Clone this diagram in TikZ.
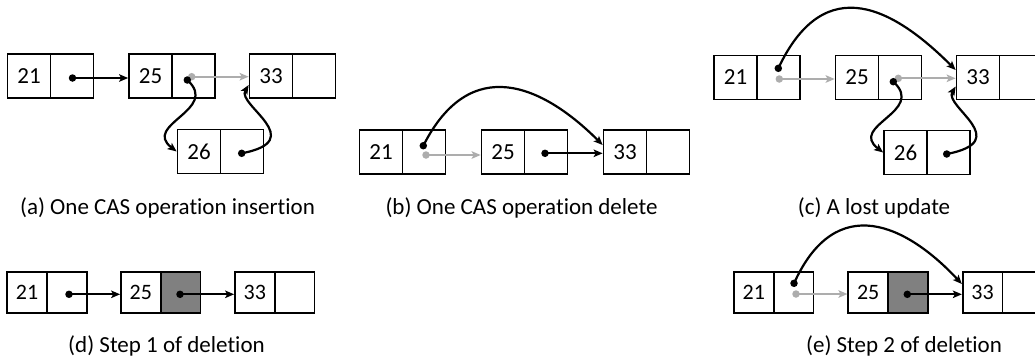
\documentclass[tikz,border=0pt]{standalone}
\usepackage{fontspec}
\setmainfont{Carlito}[Ligatures=NoCommon]
\usetikzlibrary{arrows.meta}
\definecolor{lgray}{gray}{0.68}
\definecolor{dgray}{gray}{0.5}
\begin{document}
\begin{tikzpicture}[x=1pt,y=-1pt,
  cell/.style={draw, line width=1.7pt, minimum width=43pt, minimum height=44pt, inner sep=0pt, font=\fontsize{23}{23}\selectfont},
  smallcell/.style={cell, minimum width=39.7pt, minimum height=40.4pt, font=\fontsize{22}{22}\selectfont},
  darkcell/.style={smallcell, fill=dgray},
  dot/.style={circle, fill=black, inner sep=0pt, minimum size=7.5pt},
  gdot/.style={dot, fill=lgray},
  ptr/.style={line width=2.2pt, draw=black, -{Stealth[length=9pt,width=7.5pt,inset=2pt]}},
  gptr/.style={ptr, draw=lgray, -{Stealth[length=9pt,width=7.5pt,inset=2pt,fill=lgray]}},
  captext/.style={anchor=base, inner sep=0pt, font=\fontsize{23}{23}\selectfont}]
\useasboundingbox (0,0) rectangle (1035,360);
\clip (0,0) rectangle (1035,360);

% ---------------- (a) ----------------
\node[cell] (a21k) at (29,76) {21};
\node[cell] (a21p) at (72,76) {};
\node[cell] (a25k) at (150.5,76) {25};
\node[cell] (a25p) at (193.5,76) {};
\node[cell] (a33k) at (271,76) {33};
\node[cell] (a33p) at (314,76) {};
\node[cell] (a26k) at (199,151.5) {26};
\node[cell] (a26p) at (242,151.5) {};
\coordinate (a21d) at (72.5,78);
\coordinate (a25d) at (187.3,80);
\coordinate (a25g) at (191.7,76.7);
\coordinate (a26d) at (241.7,153.3);
\draw[gptr] (a25g) -- (a25g -| a33k.west);
\draw[ptr] (a21d) -- (a21d -| a25k.west);
\draw[ptr] (a25d) .. controls +(33,30) and +(-35,-27) .. (a26k.west);
\draw[ptr] (a26d) .. controls +(68,-13) and +(-12,20) .. ([yshift=-9pt]a33k.west);
\node[dot] at (a21d) {};
\node[gdot] at (a25g) {};
\node[dot] at (a25d) {};
\node[dot] at (a26d) {};
\node[captext] (capa) at (167.5,214) {(a) One CAS operation insertion};

% ---------------- (b) ----------------
\node[cell] (b21k) at (381,152) {21};
\node[cell] (b21p) at (424,152) {};
\node[cell] (b25k) at (503,152) {25};
\node[cell] (b25p) at (546,152) {};
\node[cell] (b33k) at (625,152) {33};
\node[cell] (b33p) at (668,152) {};
\coordinate (b21d) at (423.3,145.7);
\coordinate (b21g) at (426,155);
\coordinate (b25d) at (545,153.3);
\draw[gptr] (b21g) -- (b21g -| b25k.west);
\draw[ptr] (b25d) -- (b25d -| b33k.west);
\draw[ptr] (b21d) .. controls +(47,-93) and +(-60,-60) .. ([yshift=7pt]b33k.west);
\node[gdot] at (b21g) {};
\node[dot] at (b21d) {};
\node[dot] at (b25d) {};
\node[captext] (capb) at (521.5,214) {(b) One CAS operation delete};

% ---------------- (c) ----------------
\node[cell] (c21k) at (735.5,77.5) {21};
\node[cell] (c21p) at (778.5,77.5) {};
\node[cell] (c25k) at (857,77.5) {25};
\node[cell] (c25p) at (900,77.5) {};
\node[cell] (c33k) at (978,77.5) {33};
\node[cell] (c33p) at (1021,77.5) {};
\node[cell] (c26k) at (905.5,152.5) {26};
\node[cell] (c26p) at (948.5,152.5) {};
\coordinate (c21d) at (778.3,68.3);
\coordinate (c21g) at (779.3,79);
\coordinate (c25d) at (893.3,81.7);
\coordinate (c25g) at (898.3,78.3);
\coordinate (c26d) at (946.7,154);
\draw[gptr] (c21g) -- (c21g -| c25k.west);
\draw[gptr] (c25g) -- (c25g -| c33k.west);
\draw[ptr] (c21d) .. controls +(47,-100) and +(-60,-60) .. ([yshift=7.5pt]c33k.west);
\draw[ptr] (c25d) .. controls +(33,30) and +(-35,-27) .. (c26k.west);
\draw[ptr] (c26d) .. controls +(68,-13) and +(-12,20) .. ([yshift=-9pt]c33k.west);
\node[gdot] at (c21g) {};
\node[dot] at (c21d) {};
\node[gdot] at (c25g) {};
\node[dot] at (c25d) {};
\node[dot] at (c26d) {};
\node[captext] (capc) at (874,214) {(c) A lost update};

% ---------------- (d) ----------------
\node[smallcell] (d21k) at (27.15,292.5) {21};
\node[smallcell] (d21p) at (66.85,292.5) {};
\node[smallcell] (d25k) at (140.85,292.5) {25};
\node[darkcell] (d25p) at (180.55,292.5) {};
\node[smallcell] (d33k) at (254.85,292.5) {33};
\node[smallcell] (d33p) at (294.55,292.5) {};
\coordinate (d21d) at (69,294.3);
\coordinate (d25d) at (180,294.3);
\draw[ptr] (d21d) -- (d21d -| d25k.west);
\draw[ptr] (d25d) -- (d25d -| d33k.west);
\node[dot] at (d21d) {};
\node[dot] at (d25d) {};
\node[captext] (capd) at (166.5,352) {(d) Step 1 of deletion};

% ---------------- (e) ----------------
\node[smallcell] (e21k) at (753.85,292.5) {21};
\node[smallcell] (e21p) at (793.55,292.5) {};
\node[smallcell] (e25k) at (868.15,292.5) {25};
\node[darkcell] (e25p) at (907.85,292.5) {};
\node[smallcell] (e33k) at (982.55,292.5) {33};
\node[smallcell] (e33p) at (1022.25,292.5) {};
\coordinate (e21d) at (794,283.3);
\coordinate (e21g) at (796,294);
\coordinate (e25d) at (907.3,294.3);
\draw[gptr] (e21g) -- (e21g -| e25k.west);
\draw[ptr] (e25d) -- (e25d -| e33k.west);
\draw[ptr] (e21d) .. controls +(42,-93) and +(-55,-59) .. ([yshift=8.5pt]e33k.west);
\node[gdot] at (e21g) {};
\node[dot] at (e21d) {};
\node[dot] at (e25d) {};
\node[captext] (cape) at (904,352) {(e) Step 2 of deletion};
\end{tikzpicture}
\end{document}
